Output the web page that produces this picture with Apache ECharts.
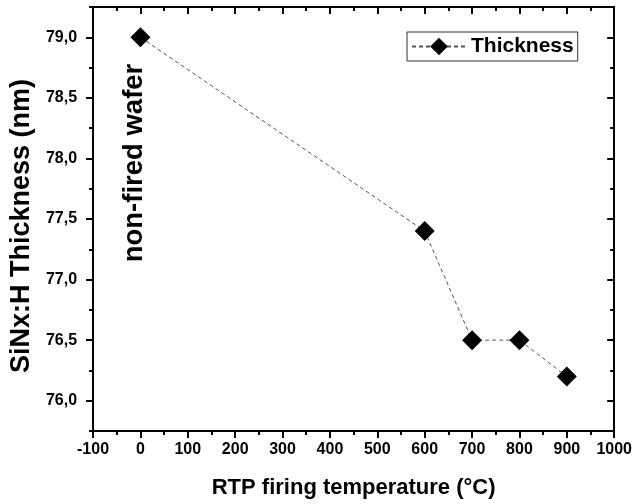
<!DOCTYPE html>
<html>
<head>
<meta charset="utf-8">
<script src="https://cdn.jsdelivr.net/npm/echarts@6/dist/echarts.min.js"></script>
<style>
  html, body { margin: 0; padding: 0; background: #fff; }
  #chart { width: 635px; height: 504px; }
</style>
</head>
<body>
<div id="chart"></div>
<script>
// RTP firing temperature (°C), 0 = non-fired wafer
const temperatures = [0, 600, 700, 800, 900]
// SiNx:H thickness (nm)
const thickness = [79.0, 77.4, 76.5, 76.5, 76.2]
const yMajorTicks = [76.0, 76.5, 77.0, 77.5, 78.0, 78.5, 79.0]

const FONT = '"Liberation Sans", Arial, sans-serif'
const frame = { show: true, onZero: false, lineStyle: { color: '#000', width: 2 } }
const noLine = { show: false, onZero: false }
const tickLine = { color: '#000', width: 2 }
const fmtComma = (v) => v.toFixed(1).replace('.', ',')

const yRange = { type: 'value', min: 75.75, max: 79.25, interval: 0.25, splitLine: { show: false } }
const xRange = { type: 'value', min: -100, max: 1000, interval: 100, splitLine: { show: false } }

const chart = echarts.init(document.getElementById('chart'))
chart.setOption({
  backgroundColor: '#fff',
  animation: false,
  grid: { left: 90, right: 20, top: 7, bottom: 73 },
  legend: {
    left: 407,
    top: 32,
    padding: [4, 4, 4, 4],
    borderColor: '#333',
    borderWidth: 1,
    itemWidth: 54,
    itemHeight: 22,
    itemGap: 4,
    textStyle: { fontFamily: FONT, fontWeight: 'bold', fontSize: 21, color: '#000' },
    data: ['Thickness']
  },
  xAxis: [
    {
      ...xRange,
      position: 'bottom',
      name: 'RTP firing temperature (°C)',
      nameLocation: 'middle',
      nameGap: 46,
      nameTextStyle: { fontFamily: FONT, fontWeight: 'bold', fontSize: 22, color: '#000' },
      axisLine: frame,
      axisTick: { show: true, length: 7, lineStyle: tickLine },
      minorTick: { show: true, splitNumber: 2, length: 4, lineStyle: tickLine },
      axisLabel: {
        margin: 11,
        formatter: (v) => String(v),
        fontFamily: FONT, fontWeight: 'bold', fontSize: 16, color: '#000'
      }
    },
    {
      ...xRange,
      position: 'top',
      axisLine: frame,
      axisTick: { show: true, inside: true, length: 7, lineStyle: tickLine },
      minorTick: { show: true, splitNumber: 2, length: 4, lineStyle: tickLine },
      axisLabel: { show: false }
    }
  ],
  yAxis: [
    {
      ...yRange,
      position: 'left',
      name: 'SiNx:H Thickness (nm)',
      nameLocation: 'middle',
      nameGap: 51,
      nameTextStyle: {
        fontFamily: FONT, fontWeight: 'bold', fontSize: 27, color: '#000',
        padding: [0, 14, 0, 0]
      },
      axisLine: frame,
      axisTick: { show: true, length: 7, customValues: yMajorTicks, lineStyle: tickLine },
      axisLabel: {
        margin: 16,
        customValues: yMajorTicks,
        formatter: fmtComma,
        fontFamily: FONT, fontWeight: 'bold', fontSize: 16, color: '#000'
      }
    },
    {
      ...yRange,
      position: 'left',
      axisLine: noLine,
      axisTick: { show: true, length: 4, lineStyle: tickLine },
      axisLabel: { show: false }
    },
    {
      ...yRange,
      position: 'right',
      axisLine: frame,
      axisTick: { show: true, inside: true, length: 7, customValues: yMajorTicks, lineStyle: tickLine },
      axisLabel: { show: false }
    },
    {
      ...yRange,
      position: 'right',
      axisLine: noLine,
      axisTick: { show: true, inside: true, length: 4, lineStyle: tickLine },
      axisLabel: { show: false }
    }
  ],
  graphic: [
    {
      type: 'text',
      x: 134,
      y: 163,
      rotation: Math.PI / 2,
      style: {
        text: 'non-fired wafer',
        font: 'bold 27.5px "Liberation Sans", Arial, sans-serif',
        fill: '#000',
        align: 'center',
        verticalAlign: 'middle'
      }
    }
  ],
  series: [
    {
      name: 'Thickness',
      type: 'line',
      xAxisIndex: 0,
      yAxisIndex: 0,
      data: temperatures.map((t, i) => [t, thickness[i]]),
      symbol: 'diamond',
      symbolSize: 20,
      itemStyle: { color: '#000' },
      lineStyle: { color: '#555', width: 1, type: [4, 3] },
      z: 3
    }
  ]
})
</script>
</body>
</html>
